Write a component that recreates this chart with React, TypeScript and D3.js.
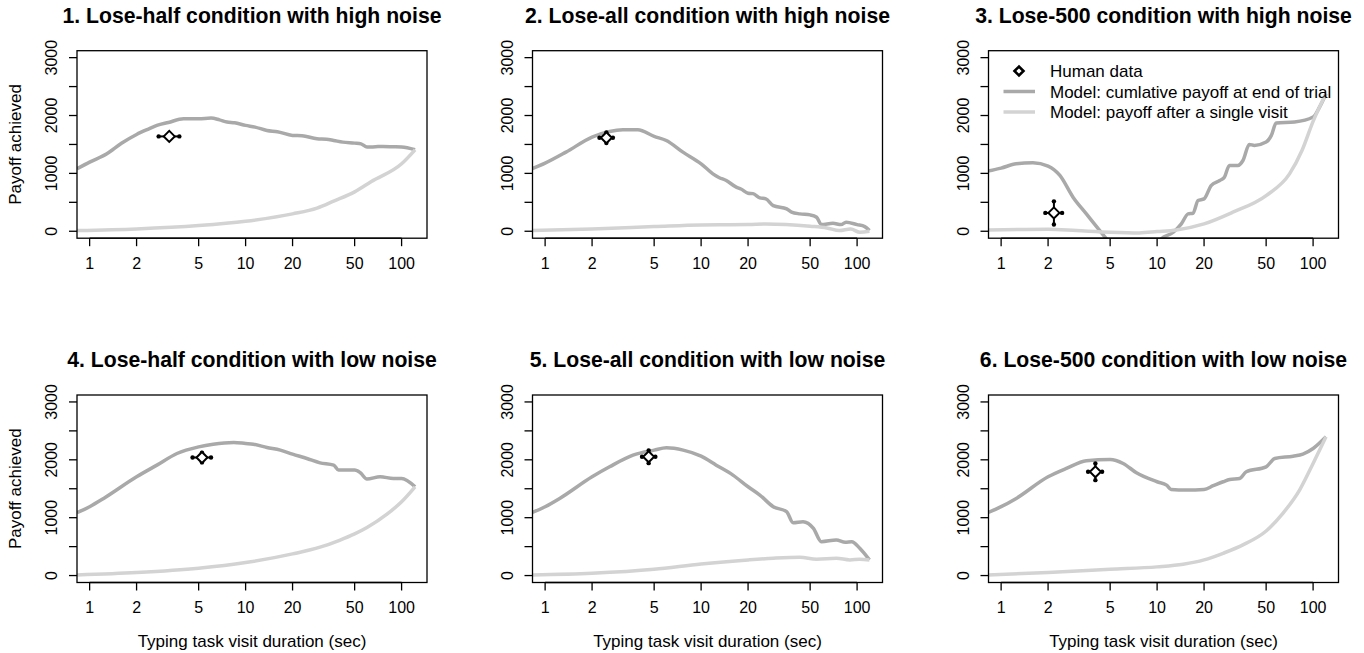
import React from "react";
import * as d3 from "d3";

// panel titles
const titles = [
  "1. Lose-half condition with high noise",
  "2. Lose-all condition with high noise",
  "3. Lose-500 condition with high noise",
  "4. Lose-half condition with low noise",
  "5. Lose-all condition with low noise",
  "6. Lose-500 condition with low noise",
];

const xTicks = [1, 2, 5, 10, 20, 50, 100];
const yTicks = [0, 500, 1000, 1500, 2000, 2500, 3000];
const yTickLabels = [0, 1000, 2000, 3000];

// model: cumulative payoff at end of trial (duration, payoff)
const cum1X = [0.83, 1, 1.29, 1.6, 2, 2.4, 2.7, 3.2, 4, 5, 6, 6.8, 7.6, 8.5, 10, 11.5, 13.7, 16, 20, 23, 28.7, 33, 36.7, 42, 50, 55, 60, 68, 76, 88, 100, 122];
const cum1Y = [1079, 1194, 1339, 1520, 1673, 1770, 1829, 1880, 1944, 1944, 1956, 1925, 1887, 1875, 1829, 1800, 1742, 1720, 1656, 1650, 1598, 1590, 1569, 1540, 1523, 1510, 1454, 1460, 1466, 1460, 1454, 1408];
const cum2X = [0.82, 1, 1.36, 2, 2.59, 3.15, 3.93, 5, 5.98, 7.65, 10, 11.9, 13, 14.5, 16.8, 18, 20, 21.5, 23.8, 26, 29, 35.4, 38, 43, 50, 55, 59, 70, 79, 85, 100, 112, 120];
const cum2Y = [1079, 1177, 1367, 1627, 1725, 1754, 1754, 1639, 1569, 1367, 1166, 992, 930, 877, 762, 730, 658, 650, 577, 560, 444, 387, 330, 300, 283, 242, 115, 138, 115, 156, 115, 81, 12];
const cum3X = [0.82, 1, 1.25, 1.6, 2, 2.38, 2.89, 3.52, 4.29, 4.73, 6, 8, 10.6, 12.7, 14.3, 15.8, 17, 18.3, 20, 22.2, 25.2, 27, 29.1, 33, 35.5, 39, 42, 50, 54, 58, 76, 100, 110, 121];
const cum3Y = [1039, 1091, 1166, 1183, 1125, 964, 589, 300, 12, -133, -500, -600, -133, -17, 127, 300, 312, 531, 560, 790, 877, 935, 1137, 1137, 1223, 1500, 1483, 1541, 1656, 1870, 1887, 1973, 2146, 2377];
const cum4X = [0.83, 1, 1.23, 2, 2.7, 3.63, 5, 6.2, 8.4, 10, 11.2, 13.7, 16.7, 20, 24.7, 30, 36.7, 39.4, 50, 54.4, 60, 72.9, 88.6, 100, 122];
const cum4Y = [1086, 1190, 1333, 1707, 1908, 2109, 2224, 2270, 2299, 2282, 2270, 2213, 2167, 2098, 2023, 1948, 1908, 1822, 1822, 1776, 1667, 1707, 1678, 1678, 1534];
const cum5X = [0.82, 1, 1.24, 2, 2.59, 3.66, 5, 6, 7.67, 10, 12.5, 16, 20, 23.8, 29, 35.3, 38.9, 45, 52.5, 59, 73.6, 84, 92.4, 104, 120];
const cum5Y = [1086, 1190, 1333, 1707, 1879, 2080, 2167, 2207, 2167, 2063, 1908, 1736, 1534, 1391, 1190, 1103, 914, 931, 816, 586, 615, 575, 586, 471, 270];
const cum6X = [0.82, 1, 1.25, 2, 2.62, 3.52, 5, 6.06, 7.37, 10, 11.5, 12.3, 15.4, 20, 22.9, 26.5, 29.2, 33.8, 37.3, 50, 56.8, 74.4, 86, 100, 121];
const cum6Y = [1086, 1190, 1333, 1707, 1851, 1983, 2006, 1937, 1776, 1621, 1563, 1488, 1477, 1488, 1552, 1621, 1661, 1678, 1793, 1879, 2023, 2063, 2098, 2195, 2397];

// model: payoff after a single visit (duration, payoff)
const one1X = [0.83, 2, 5, 10, 20, 28.7, 36.7, 50, 64, 100, 122];
const one1Y = [12, 40, 98, 173, 300, 400, 520, 680, 860, 1166, 1408];
const one2X = [0.82, 2, 5, 10, 20, 26, 50, 64, 77, 91, 104, 120];
const one2Y = [12, 40, 81, 110, 115, 127, 87, 58, 12, 40, -17, 0];
const one3X = [0.82, 2, 3.04, 5, 7.7, 10, 13.3, 20, 30.6, 50, 70.6, 85, 100, 121];
const one3Y = [23, 35, 12, -17, -29, -6, 23, 127, 329, 617, 992, 1400, 1900, 2377];
const one4X = [0.83, 2, 5, 10, 20, 30, 40, 50, 60, 80.6, 100, 122];
const one4Y = [11, 52, 126, 224, 374, 490, 610, 720, 830, 1060, 1276, 1534];
const one5X = [0.82, 2, 5, 10, 20, 29, 43, 55, 73.6, 90, 104, 120];
const one5Y = [11, 40, 109, 201, 270, 299, 316, 282, 299, 270, 282, 270];
const one6X = [0.82, 2, 5, 10, 14.7, 20, 26.5, 35.5, 50, 64, 81.9, 100, 121];
const one6Y = [11, 52, 109, 150, 195, 270, 385, 530, 770, 1075, 1477, 1937, 2397];

// human data: mean duration, duration range, mean payoff, payoff error
const humanX = [3.24, 2.47, 2.18, 5.25, 4.61, 4.02];
const humanXLo = [2.77, 2.23, 1.92, 4.57, 4.18, 3.61];
const humanXHi = [3.76, 2.72, 2.46, 6.0, 5.09, 4.44];
const humanY = [1639, 1616, 317, 2040, 2052, 1793];
const humanYErr = [50, 90, 200, 85, 110, 144];

const cumX = [cum1X, cum2X, cum3X, cum4X, cum5X, cum6X];
const cumY = [cum1Y, cum2Y, cum3Y, cum4Y, cum5Y, cum6Y];
const oneX = [one1X, one2X, one3X, one4X, one5X, one6X];
const oneY = [one1Y, one2Y, one3Y, one4Y, one5Y, one6Y];

const legendLabels = [
  "Human data",
  "Model: cumlative payoff at end of trial",
  "Model: payoff after a single visit",
];

const W = 1364;
const H = 653;
const colLeft = [77, 532.5, 988.5];
const rowTop = [50.7, 395];
const boxW = 350;
const boxH = 187.5;
const darkGrey = "#a9a9a9";
const lightGrey = "#d3d3d3";
const font = "Liberation Sans, Arial, Helvetica, sans-serif";

const Marker = ({ cx, cy, x0, x1, y0, y1 }) => (
  <g>
    <line x1={x0} x2={x1} y1={cy} y2={cy} stroke="#000" strokeWidth={2} />
    <line x1={cx} x2={cx} y1={y0} y2={y1} stroke="#000" strokeWidth={2} />
    {[[x0, cy], [x1, cy], [cx, y0], [cx, y1]].map((p, i) => (
      <circle key={i} cx={p[0]} cy={p[1]} r={2.2} fill="#000" />
    ))}
    <path
      d={`M${cx - 5.5},${cy} L${cx},${cy - 5.5} L${cx + 5.5},${cy} L${cx},${cy + 5.5} Z`}
      fill="#fff"
      stroke="#000"
      strokeWidth={2}
    />
  </g>
);

const Panel = ({ i }) => {
  const col = i % 3;
  const row = Math.floor(i / 3);
  const left = colLeft[col];
  const top = rowTop[row];
  const x = d3.scaleLog().domain([0.83, 145.5]).range([left, left + boxW]);
  const y = d3.scaleLinear().domain([-120, 3120]).range([top + boxH, top]);
  const line = d3
    .line()
    .x((d) => x(d[0]))
    .y((d) => y(d[1]))
    .curve(d3.curveMonotoneX);
  const cumData = cumX[i].map((v, k) => [v, cumY[i][k]]);
  const oneData = oneX[i].map((v, k) => [v, oneY[i][k]]);
  const clipId = `clip${i}`;
  const bottom = top + boxH;

  return (
    <g>
      <defs>
        <clipPath id={clipId}>
          <rect x={left} y={top} width={boxW} height={boxH} />
        </clipPath>
      </defs>
      <text
        x={left + boxW / 2}
        y={top - 28}
        textAnchor="middle"
        fontSize={21.2}
        fontWeight="bold"
        fontFamily={font}
      >
        {titles[i]}
      </text>
      <g clipPath={`url(#${clipId})`} fill="none" strokeLinejoin="round">
        <path d={line(cumData)} stroke={darkGrey} strokeWidth={3.5} />
        <path d={line(oneData)} stroke={lightGrey} strokeWidth={3.5} />
      </g>
      <Marker
        cx={x(humanX[i])}
        cy={y(humanY[i])}
        x0={x(humanXLo[i])}
        x1={x(humanXHi[i])}
        y0={y(humanY[i] + humanYErr[i])}
        y1={y(humanY[i] - humanYErr[i])}
      />
      <rect x={left} y={top} width={boxW} height={boxH} fill="none" stroke="#000" strokeWidth={1.3} />
      {/* x axis */}
      <line x1={x(1)} x2={x(100)} y1={bottom} y2={bottom} stroke="#000" strokeWidth={1.3} />
      {xTicks.map((t) => (
        <g key={t}>
          <line x1={x(t)} x2={x(t)} y1={bottom} y2={bottom + 8} stroke="#000" strokeWidth={1.3} />
          <text x={x(t)} y={bottom + 30.6} textAnchor="middle" fontSize={16} fontFamily={font}>
            {t}
          </text>
        </g>
      ))}
      {/* y axis */}
      {yTicks.map((t) => (
        <line key={t} x1={left - 8} x2={left} y1={y(t)} y2={y(t)} stroke="#000" strokeWidth={1.3} />
      ))}
      {yTickLabels.map((t) => (
        <text
          key={t}
          transform={`translate(${left - 20},${y(t)}) rotate(-90)`}
          textAnchor="middle"
          fontSize={16}
          fontFamily={font}
        >
          {t}
        </text>
      ))}
      {col === 0 && (
        <text
          transform={`translate(20.5,${top + boxH / 2}) rotate(-90)`}
          textAnchor="middle"
          fontSize={17}
          fontFamily={font}
        >
          Payoff achieved
        </text>
      )}
      {row === 1 && (
        <text x={left + boxW / 2} y={647} textAnchor="middle" fontSize={17} fontFamily={font}>
          Typing task visit duration (sec)
        </text>
      )}
    </g>
  );
};

const Legend = () => {
  const lx = 1003.5;
  const tx = 1050;
  const rows = [71, 91.5, 112];
  return (
    <g fontFamily={font} fontSize={17}>
      <path
        d={`M${1019 - 4.5},${rows[0]} L1019,${rows[0] - 4.5} L${1019 + 4.5},${rows[0]} L1019,${rows[0] + 4.5} Z`}
        fill="#fff"
        stroke="#000"
        strokeWidth={2.6}
      />
      <line x1={lx} x2={lx + 31.5} y1={rows[1]} y2={rows[1]} stroke={darkGrey} strokeWidth={3.5} />
      <line x1={lx} x2={lx + 31.5} y1={rows[2]} y2={rows[2]} stroke={lightGrey} strokeWidth={3.5} />
      {legendLabels.map((l, k) => (
        <text key={l} x={tx} y={rows[k] + 6}>
          {l}
        </text>
      ))}
    </g>
  );
};

export default function App() {
  return (
    <div style={{ position: "absolute", left: 0, top: 0 }}>
      <svg width={W} height={H} style={{ display: "block", background: "#fff" }}>
        {titles.map((_, i) => (
          <Panel key={i} i={i} />
        ))}
        <Legend />
      </svg>
    </div>
  );
}
